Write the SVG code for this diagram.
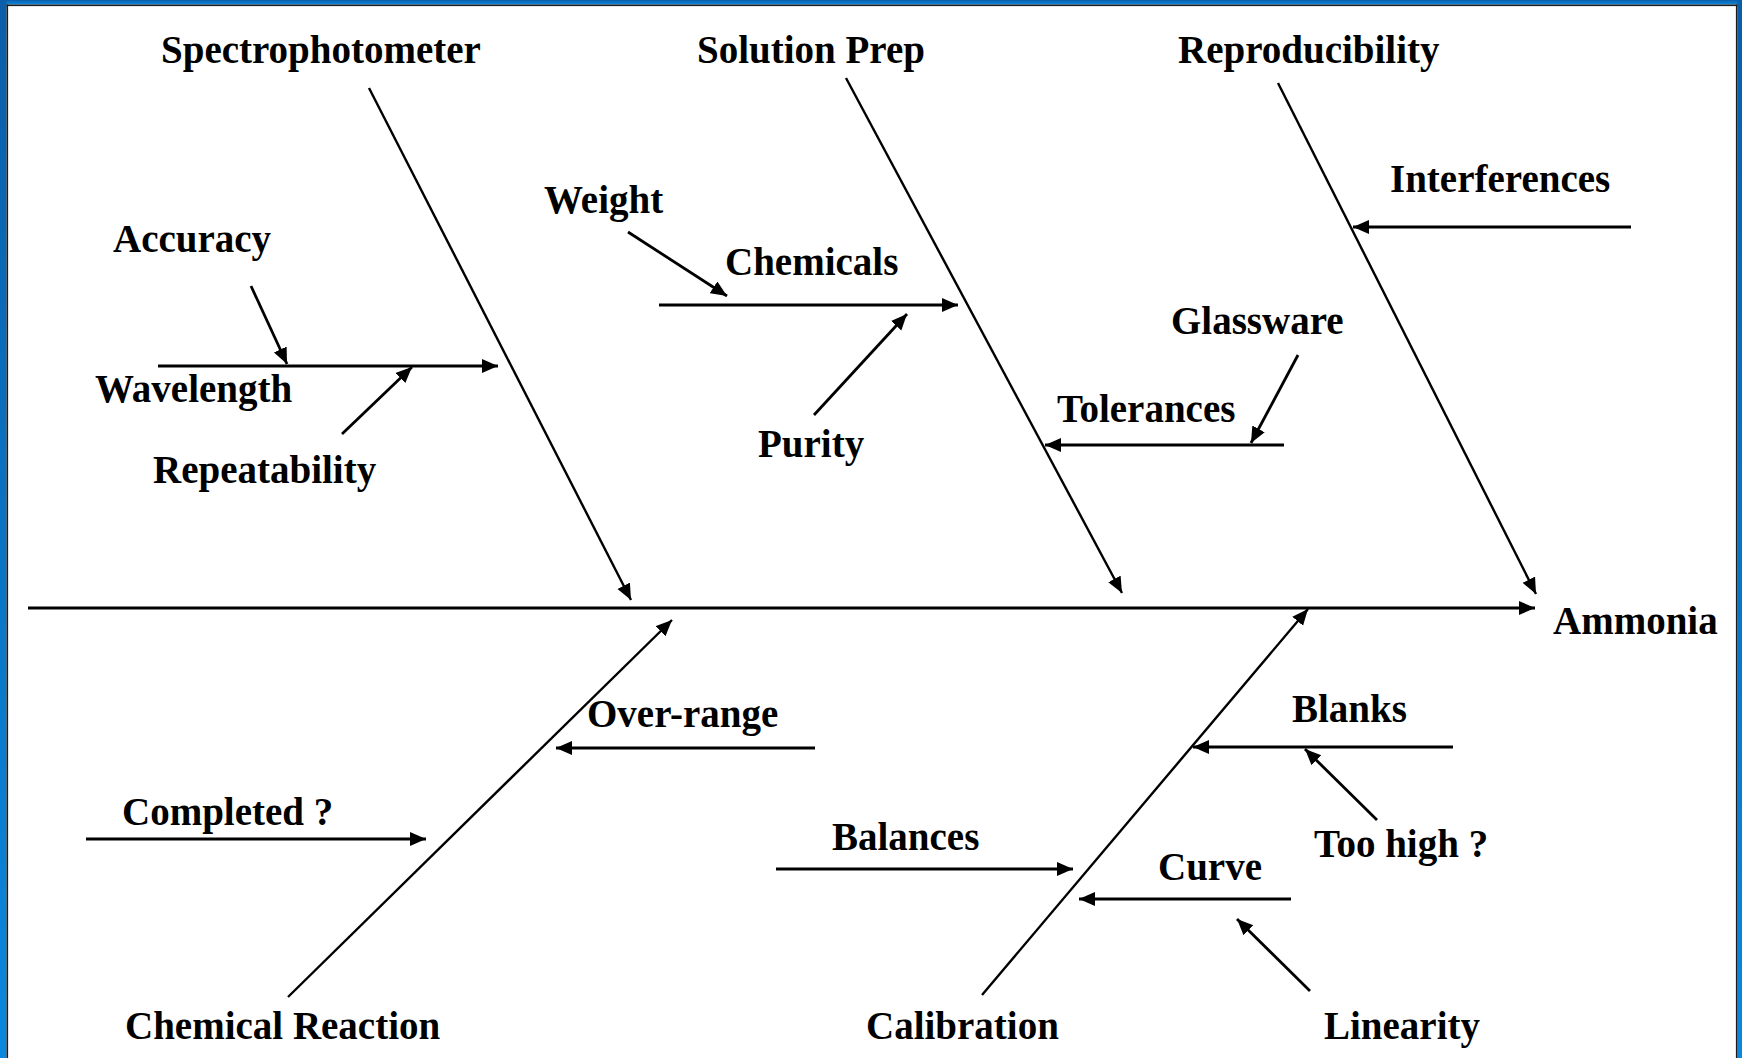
<svg xmlns="http://www.w3.org/2000/svg" width="1742" height="1058" viewBox="0 0 1742 1058">
  <style>
    .lbl { font-family: "Liberation Serif", "Times New Roman", serif; font-weight: bold; font-size: 39px; fill: #000; }
    .bone { stroke: #000; stroke-width: 2.4; fill: none; }
    .spine { stroke: #000; stroke-width: 3; fill: none; }
    .sub { stroke: #000; stroke-width: 2.8; fill: none; }
  </style>
  <defs>
    <linearGradient id="frameBlue" x1="0" y1="0" x2="0" y2="1">
      <stop offset="0" stop-color="#0b5ea8"/>
      <stop offset="1" stop-color="#0a88de"/>
    </linearGradient>
    <marker id="head" markerUnits="userSpaceOnUse" markerWidth="18" markerHeight="15" refX="16" refY="7" orient="auto">
      <path d="M0,0 L16,7 L0,14 z" fill="#000"/>
    </marker>
  </defs>

  <!-- page and frame -->
  <rect x="0" y="0" width="1742" height="1058" fill="#fff"/>
  <rect x="0" y="0" width="1742" height="4.5" fill="url(#frameBlue)"/>
  <rect x="0" y="0" width="6.5" height="1058" fill="url(#frameBlue)"/>
  <rect x="1737.5" y="0" width="4.5" height="1058" fill="url(#frameBlue)"/>
  <rect x="6.5" y="4.5" width="1731" height="1.6" fill="#1c1c1c"/>
  <rect x="6.5" y="4.5" width="1.6" height="1053.5" fill="#1c1c1c"/>
  <rect x="1735.9" y="4.5" width="1.6" height="1053.5" fill="#1c1c1c"/>

  <!-- connectors -->
  <g id="connectors">
    <line class="spine" x1="28" y1="608" x2="1535" y2="608" marker-end="url(#head)"/>
    <line class="bone" x1="369" y1="88" x2="631" y2="600" marker-end="url(#head)"/>
    <line class="bone" x1="846" y1="78" x2="1122" y2="593" marker-end="url(#head)"/>
    <line class="bone" x1="1278" y1="83" x2="1536" y2="594" marker-end="url(#head)"/>
    <line class="bone" x1="288" y1="997" x2="672" y2="620" marker-end="url(#head)"/>
    <line class="bone" x1="982" y1="995" x2="1308" y2="609" marker-end="url(#head)"/>

    <line class="sub" x1="158" y1="366" x2="498" y2="366" marker-end="url(#head)"/>
    <line class="sub" x1="251" y1="286" x2="287" y2="364" marker-end="url(#head)"/>
    <line class="sub" x1="342" y1="434" x2="412" y2="367" marker-end="url(#head)"/>

    <line class="sub" x1="659" y1="305" x2="958" y2="305" marker-end="url(#head)"/>
    <line class="sub" x1="628" y1="232" x2="727" y2="296" marker-end="url(#head)"/>
    <line class="sub" x1="814" y1="415" x2="907" y2="314" marker-end="url(#head)"/>

    <line class="sub" x1="1631" y1="227" x2="1353" y2="227" marker-end="url(#head)"/>
    <line class="sub" x1="1284" y1="445" x2="1045" y2="445" marker-end="url(#head)"/>
    <line class="sub" x1="1298" y1="355" x2="1251" y2="443" marker-end="url(#head)"/>

    <line class="sub" x1="815" y1="748" x2="556" y2="748" marker-end="url(#head)"/>
    <line class="sub" x1="86" y1="839" x2="426" y2="839" marker-end="url(#head)"/>

    <line class="sub" x1="1453" y1="747" x2="1193" y2="747" marker-end="url(#head)"/>
    <line class="sub" x1="1377" y1="820" x2="1305" y2="749" marker-end="url(#head)"/>
    <line class="sub" x1="776" y1="869" x2="1073" y2="869" marker-end="url(#head)"/>
    <line class="sub" x1="1291" y1="899" x2="1079" y2="899" marker-end="url(#head)"/>
    <line class="sub" x1="1310" y1="991" x2="1237" y2="919" marker-end="url(#head)"/>
  </g>

  <!-- effect -->
  <g id="node-ammonia"><text class="lbl" x="1553" y="634">Ammonia</text></g>

  <!-- main cause categories -->
  <g id="node-spectrophotometer"><text class="lbl" x="161" y="63">Spectrophotometer</text></g>
  <g id="node-solution-prep"><text class="lbl" x="697" y="63">Solution Prep</text></g>
  <g id="node-reproducibility"><text class="lbl" x="1178" y="63">Reproducibility</text></g>
  <g id="node-chemical-reaction"><text class="lbl" x="125" y="1039">Chemical Reaction</text></g>
  <g id="node-calibration"><text class="lbl" x="866" y="1039">Calibration</text></g>

  <!-- sub causes -->
  <g id="node-accuracy"><text class="lbl" x="113" y="252">Accuracy</text></g>
  <g id="node-wavelength"><text class="lbl" x="95" y="402">Wavelength</text></g>
  <g id="node-repeatability"><text class="lbl" x="153" y="483">Repeatability</text></g>
  <g id="node-weight"><text class="lbl" x="544" y="213">Weight</text></g>
  <g id="node-chemicals"><text class="lbl" x="725" y="275">Chemicals</text></g>
  <g id="node-purity"><text class="lbl" x="758" y="457">Purity</text></g>
  <g id="node-interferences"><text class="lbl" x="1390" y="192">Interferences</text></g>
  <g id="node-glassware"><text class="lbl" x="1171" y="334">Glassware</text></g>
  <g id="node-tolerances"><text class="lbl" x="1057" y="422">Tolerances</text></g>
  <g id="node-over-range"><text class="lbl" x="587" y="727">Over-range</text></g>
  <g id="node-completed"><text class="lbl" x="122" y="825">Completed ?</text></g>
  <g id="node-blanks"><text class="lbl" x="1292" y="722">Blanks</text></g>
  <g id="node-too-high"><text class="lbl" x="1314" y="857">Too high ?</text></g>
  <g id="node-balances"><text class="lbl" x="832" y="850">Balances</text></g>
  <g id="node-curve"><text class="lbl" x="1158" y="880">Curve</text></g>
  <g id="node-linearity"><text class="lbl" x="1324" y="1039">Linearity</text></g>
</svg>
